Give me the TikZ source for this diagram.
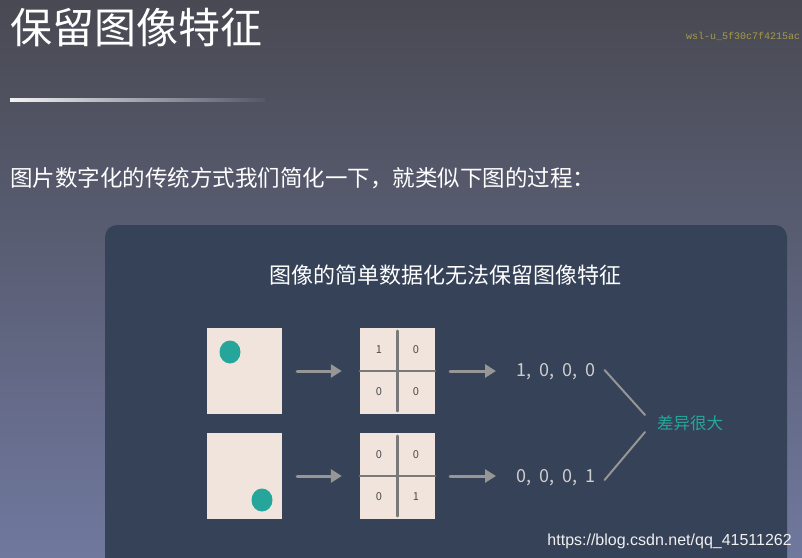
\documentclass[tikz,border=0pt]{standalone}
\usepackage{fontspec}
\setmainfont{Noto Sans CJK SC}
\newfontfamily\urlfont{Liberation Sans}
\newfontfamily\markfont{Liberation Mono}
\usetikzlibrary{arrows.meta,positioning,shapes.geometric}
\definecolor{bgtop}{RGB}{72,73,82}
\definecolor{bgbot}{RGB}{112,120,158}
\definecolor{panelbg}{RGB}{54,66,88}
\definecolor{paper}{RGB}{240,228,221}
\definecolor{teal}{RGB}{38,166,154}
\definecolor{arrowgray}{RGB}{150,150,150}
\definecolor{vectext}{RGB}{205,205,208}
\definecolor{markyellow}{RGB}{165,155,75}
\tikzset{
  imgbox/.style={fill=paper,minimum width=75pt,minimum height=86pt,inner sep=0pt},
  spot/.style={fill=teal,ellipse,minimum width=21pt,minimum height=23pt,inner sep=0pt},
  flow/.style={arrowgray,line width=3pt,-{Triangle[length=11pt,width=13pt]},shorten <=15pt,shorten >=18pt},
  divider/.style={gray!95!black,line width=2.2pt},
  cell/.style={text=black!70,font=\fontsize{11}{11}\selectfont,inner sep=0pt},
  vec/.style={text=vectext,font=\fontsize{18}{18}\selectfont,inner sep=0pt,anchor=west},
  link/.style={arrowgray,line width=2pt}
}
\begin{document}
\begin{tikzpicture}[x=1pt,y=-1pt,line cap=round,line join=round]
  \useasboundingbox (0,0) rectangle (802,557);
  \shade[top color=bgtop,bottom color=bgbot] (0,0) rectangle (802,557);
  % heading
  \node[anchor=west,text=white,inner sep=0pt,font=\fontsize{42}{42}\selectfont] (title) at (10,28) {保留图像特征};
  \shade[left color=white!90!gray,right color=bgtop!70!bgbot] (10,98.5) rectangle (265,101.5);
  \node[anchor=west,text=markyellow,inner sep=0pt,font=\markfont\fontsize{10}{10}\selectfont] (mark) at (686,36) {wsl-u\_5f30c7f4215ac};
  \node[anchor=west,text=white,inner sep=0pt,font=\fontsize{22.5}{22.5}\selectfont] (intro) at (10,178) {图片数字化的传统方式我们简化一下，就类似下图的过程：};
  % panel
  \fill[panelbg,rounded corners=12pt] (105,225) rectangle (787,575);
  \node[text=white,inner sep=0pt,font=\fontsize{22}{22}\selectfont] (ptitle) at (445,275) {图像的简单数据化无法保留图像特征};
  % images
  \node[imgbox] (img1) at (244.5,371) {};
  \node[imgbox] (img2) at (244.5,476) {};
  \node[spot] (dot1) at (230,352) {};
  \node[spot] (dot2) at (262,500) {};
  % grids
  \node[imgbox] (grid1) at (397.5,371) {};
  \node[imgbox] (grid2) at (397.5,476) {};
  \foreach \g in {grid1,grid2}{
    \draw[divider] ([yshift=-3pt]\g.north) -- ([yshift=3pt]\g.south);
    \draw[divider] (\g.west) -- (\g.east);
  }
  \node[cell] (a11) at (379,350) {1};
  \node[cell] (a12) at (416,350) {0};
  \node[cell] (a21) at (379,392) {0};
  \node[cell] (a22) at (416,392) {0};
  \node[cell] (b11) at (379,455) {0};
  \node[cell] (b12) at (416,455) {0};
  \node[cell] (b21) at (379,497) {0};
  \node[cell] (b22) at (416,497) {1};
  % vectors
  \node[vec] (vec1) at (516,372) {1,\ \ 0,\ \ 0,\ \ 0};
  \node[vec] (vec2) at (516,478) {0,\ \ 0,\ \ 0,\ \ 1};
  \node[text=teal,inner sep=0pt,anchor=west,font=\fontsize{16.5}{16.5}\selectfont] (diff) at (657,423) {差异很大};
  \draw[flow] (img1) -- (grid1);
  \draw[flow] (img2) -- (grid2);
  \draw[flow,shorten >=20pt] (grid1) -- (grid1 -| vec1.west);
  \draw[flow,shorten >=20pt] (grid2) -- (grid2 -| vec2.west);
  \draw[link] ([xshift=9pt,yshift=2pt]vec1.east) -- ([xshift=-12pt,yshift=8pt]diff.west);
  \draw[link] ([xshift=9pt,yshift=-2pt]vec2.east) -- ([xshift=-12pt,yshift=-9pt]diff.west);
  % watermark
  \node[anchor=east,text=white!88!gray,inner sep=0pt,font=\urlfont\fontsize{16}{16}\selectfont] (url) at (792,541) {https://blog.csdn.net/qq\_41511262};
\end{tikzpicture}
\end{document}
